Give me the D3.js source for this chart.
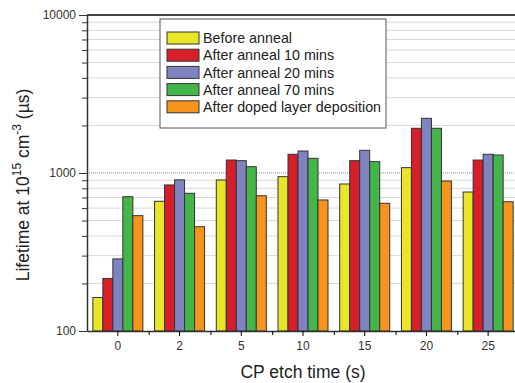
<!DOCTYPE html>
<html>
<head>
<meta charset="utf-8">
<script src="https://cdn.jsdelivr.net/npm/d3@7"></script>
<style>
body { margin: 0; background: #fff; }
svg { font-family: Arial, "Liberation Sans", sans-serif; }
</style>
</head>
<body>
<div id="target"></div>
<script>
const etchTimes = ["0", "2", "5", "10", "15", "20", "25"];
const seriesNames = ["Before anneal", "After anneal 10 mins", "After anneal 20 mins", "After anneal 70 mins", "After doped layer deposition"];
const beforeAnneal = [163, 662, 903, 948, 852, 1081, 758];
const anneal10 = [215, 840, 1208, 1313, 1197, 1919, 1208];
const anneal20 = [286, 905, 1197, 1378, 1392, 2218, 1313];
const anneal70 = [708, 744, 1096, 1239, 1180, 1919, 1300];
const dopedLayer = [537, 457, 718, 675, 643, 890, 658];
const colors = ["#e9e629", "#d71f2a", "#7f84c1", "#44b649", "#f7941d"];
const yTicks = [100, 1000, 10000];

const allSeries = [beforeAnneal, anneal10, anneal20, anneal70, dopedLayer];

const margin = {top: 15, right: -4, bottom: 52, left: 87},
width = 515 - margin.left - margin.right,
height = 383 - margin.top - margin.bottom;

let svg = d3.select("#target").append("svg")
    .attr("width", 515)
    .attr("height", 383);

let g = svg.append("g").attr("transform", `translate(${margin.left},${margin.top})`);

let x = d3.scaleBand().domain(etchTimes).range([0, width]);
let xs = d3.scaleBand().domain(d3.range(5)).range([x.bandwidth() / 2 - 25, x.bandwidth() / 2 + 25]);
let y = d3.scaleLog().domain([100, 10000]).range([height, 0]);

// minor grid lines
let minors = [];
[100, 1000].forEach(b => { for (let k = 2; k <= 9; k++) minors.push(b * k); });
g.selectAll(".grid").data(minors).enter().append("line")
    .attr("x1", 0).attr("x2", width)
    .attr("y1", d => y(d)).attr("y2", d => y(d))
    .attr("stroke", "#d9d9d9").attr("stroke-width", 1);
g.append("line")
    .attr("x1", 0).attr("x2", width)
    .attr("y1", y(1000)).attr("y2", y(1000))
    .attr("stroke", "#888").attr("stroke-dasharray", "1,1");

// bars
allSeries.forEach((vals, i) => {
    g.selectAll(".bar" + i).data(vals).enter().append("rect")
        .attr("x", (d, j) => x(etchTimes[j]) + xs(i))
        .attr("y", d => y(d))
        .attr("width", xs.bandwidth())
        .attr("height", d => height - y(d))
        .attr("fill", colors[i])
        .attr("stroke", "#333").attr("stroke-width", 1);
});

// frame top
g.append("line").attr("x1", 0).attr("x2", width).attr("y1", 0).attr("y2", 0)
    .attr("stroke", "#444").attr("stroke-width", 2);

// y axis
let yAxis = g.append("g")
    .call(d3.axisLeft(y).tickValues(yTicks).tickFormat(d3.format("d")).tickSize(8).tickPadding(3).tickSizeOuter(0));
g.append("g")
    .call(d3.axisLeft(y).tickValues(minors).tickFormat("").tickSize(5).tickSizeOuter(0))
    .select(".domain").remove();
g.selectAll(".tick line").attr("stroke", "#333");
yAxis.select(".domain").attr("stroke", "#333").attr("stroke-width", 1.5);
yAxis.selectAll("text").attr("font-size", 12).attr("fill", "#333").attr("font-family", "Arial, Liberation Sans, sans-serif");

// x axis
let xAxis = g.append("g")
    .attr("transform", "translate(0," + height + ")")
    .call(d3.axisBottom(x).tickSize(5).tickSizeOuter(0));
xAxis.select(".domain").attr("stroke", "#333").attr("stroke-width", 1.5);
xAxis.selectAll("text").attr("font-size", 12).attr("fill", "#333").attr("dy", "0.9em").attr("font-family", "Arial, Liberation Sans, sans-serif");
g.append("g")
    .attr("transform", "translate(0," + height + ")")
    .call(d3.axisBottom(d3.scaleLinear().domain([0, 7]).range([0, width])).tickValues(d3.range(1, 7)).tickFormat("").tickSize(4))
    .select(".domain").remove();

// axis titles
svg.append("text")
    .attr("x", margin.left + x("10") + x.bandwidth() / 2)
    .attr("y", 378)
    .attr("text-anchor", "middle")
    .attr("font-size", 17.5).attr("fill", "#222")
    .text("CP etch time (s)");

let yl = svg.append("text")
    .attr("transform", "translate(29,185) rotate(-90)")
    .attr("text-anchor", "middle")
    .attr("font-size", 17.5).attr("fill", "#222");
yl.append("tspan").text("Lifetime at 10");
yl.append("tspan").attr("font-size", 12).attr("dy", -8).text("15");
yl.append("tspan").attr("dy", 8).text(" cm");
yl.append("tspan").attr("font-size", 12).attr("dy", -8).text("-3");
yl.append("tspan").attr("dy", 8).text(" (\u00b5s)");

// legend
let lg = svg.append("g").attr("transform", "translate(160,19)");
lg.append("rect").attr("width", 226).attr("height", 109)
    .attr("fill", "#fff").attr("stroke", "#555").attr("stroke-width", 1);
seriesNames.forEach((name, i) => {
    lg.append("rect").attr("x", 7).attr("y", 13 + i * 17.2).attr("width", 32).attr("height", 12)
        .attr("fill", colors[i]).attr("stroke", "#333").attr("stroke-width", 1);
    lg.append("text").attr("x", 43).attr("y", 19 + i * 17.2).attr("dy", "0.36em")
        .attr("font-size", 14.3).attr("fill", "#222").text(name);
});
</script>
</body>
</html>
